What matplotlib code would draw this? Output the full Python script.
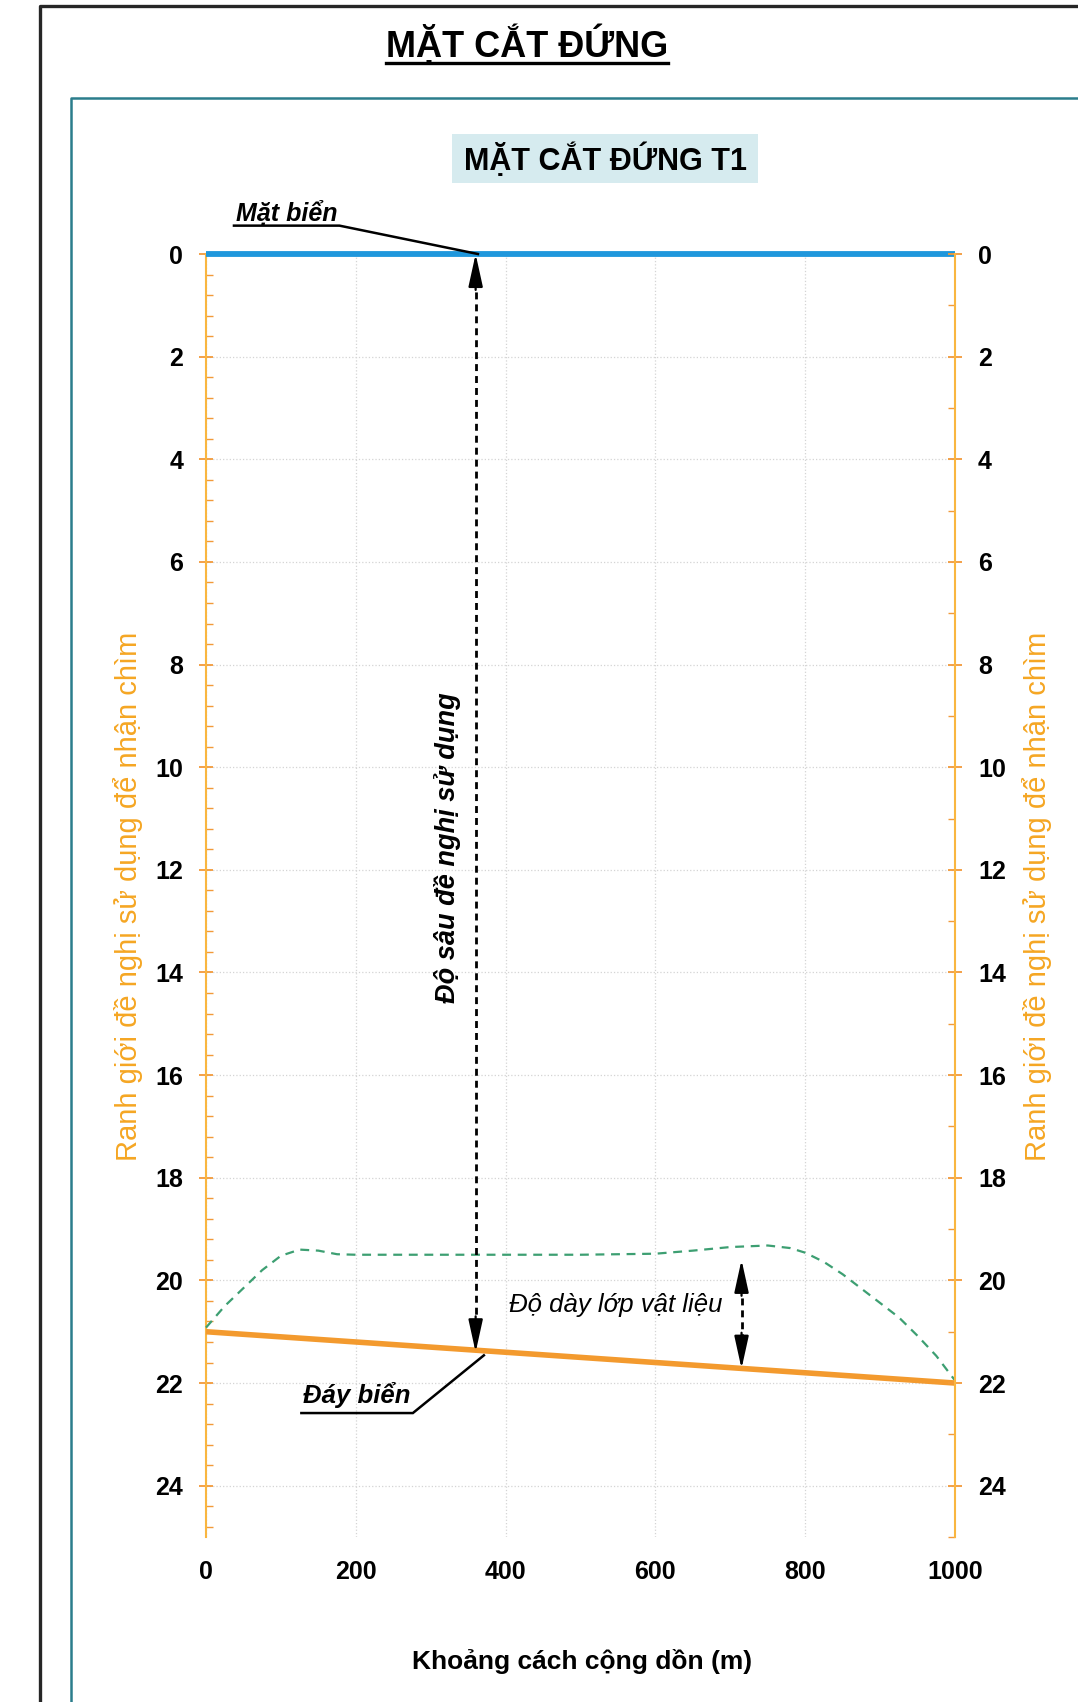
import matplotlib
matplotlib.use("Agg")
import matplotlib.pyplot as plt
from matplotlib.ticker import MultipleLocator
from matplotlib.patches import Rectangle
from matplotlib.lines import Line2D

plt.rcParams['font.family'] = ['Liberation Sans', 'DejaVu Sans']

# ---------------------------------------------------------------
# DATA
# ---------------------------------------------------------------
x_ticks = [0, 200, 400, 600, 800, 1000]

# sea surface (Mặt biển)
surface_x = [0, 1000]
surface_y = [0, 0]

# sea floor (Đáy biển)
seabed_x = [0, 1000]
seabed_y = [21.0, 22.0]

# proposed boundary for dumping (green dashed)
boundary_x = [0, 25, 50, 75, 100, 125, 150, 175, 200, 250, 300, 400, 500,
              600, 650, 700, 750, 780, 800, 825, 850, 875, 900, 925, 950,
              975, 1000]
boundary_y = [20.92, 20.5, 20.15, 19.8, 19.52, 19.4, 19.42, 19.49, 19.5,
              19.5, 19.5, 19.5, 19.5, 19.48, 19.42, 19.35, 19.32, 19.37,
              19.46, 19.64, 19.88, 20.16, 20.44, 20.72, 21.08, 21.47, 21.95]

# dimension arrows: (x, top depth, bottom depth)
depth_arrow = (360, 0.0, 21.4)
thick_arrow = (715, 19.6, 21.72)

title_main = "MẶT CẮT ĐỨNG"
title_sub = "MẶT CẮT ĐỨNG T1"
x_label = "Khoảng cách cộng dồn (m)"
y_label = "Ranh giới đề nghị sử dụng để nhận chìm"

ORANGE = '#F5A623'
TICK_COL = '#F29A3A'

# ---------------------------------------------------------------
# FIGURE / FRAME
# ---------------------------------------------------------------
W, H = 1078, 1702
fig = plt.figure(figsize=(W / 100, H / 100), dpi=100)


def fx(px):
    return px / W


def fy(py):
    return 1 - py / H


# outer black frame and inner teal frame (run off right / bottom edges)
fig.add_artist(Line2D([fx(40), fx(40), 1.0], [0.0, fy(6), fy(6)],
                      color='#262626', lw=2.4, transform=fig.transFigure))
fig.add_artist(Line2D([fx(71), fx(71), 1.0], [0.0, fy(98), fy(98)],
                      color='#2b7d8c', lw=1.8, transform=fig.transFigure))

# main title with underline
t_main = fig.text(fx(527), fy(57), title_main, ha='center', va='baseline',
                  fontsize=26, fontweight='bold')

# subtitle on light blue band
fig.add_artist(Rectangle((fx(452), fy(183)), fx(758) - fx(452), fy(134) - fy(183),
                         transform=fig.transFigure, facecolor='#d6ebef',
                         edgecolor='none'))
fig.text(fx(605), fy(170), title_sub, ha='center', va='baseline',
         fontsize=22, fontweight='bold')

# ---------------------------------------------------------------
# AXES
# ---------------------------------------------------------------
ax = fig.add_axes([fx(206), fy(1537), fx(955) - fx(206), fy(254) - fy(1537)])
ax.set_xlim(0, 1000)
ax.set_ylim(25, 0)

axr = ax.twinx()
axr.set_ylim(25, 0)

for a in (ax, axr):
    a.spines['top'].set_visible(False)
    a.spines['bottom'].set_visible(False)
ax.spines['right'].set_visible(False)
axr.spines['left'].set_visible(False)
ax.spines['left'].set_color('#F9B640')
axr.spines['right'].set_color('#F9B640')
ax.spines['left'].set_linewidth(1.5)
axr.spines['right'].set_linewidth(1.5)

ax.set_xticks(x_ticks)
ax.tick_params(axis='x', length=0, pad=16.5, labelsize=18)

ax.yaxis.set_major_locator(MultipleLocator(2))
ax.yaxis.set_minor_locator(MultipleLocator(0.4))
axr.yaxis.set_major_locator(MultipleLocator(2))
axr.yaxis.set_minor_locator(MultipleLocator(1))
for a in (ax, axr):
    a.tick_params(axis='y', which='major', direction='inout', length=10,
                  width=1.3, color=TICK_COL, pad=11.5, labelsize=18)
    a.tick_params(axis='y', which='minor', direction='in', length=5,
                  width=1.0, color=TICK_COL)

for lbl in ax.get_xticklabels() + ax.get_yticklabels() + axr.get_yticklabels():
    lbl.set_fontweight('bold')

ax.grid(True, which='major', color='#d4d4d4', linestyle=':', linewidth=0.9)
ax.set_axisbelow(True)

# ---------------------------------------------------------------
# LINES
# ---------------------------------------------------------------
ax.plot(surface_x, surface_y, color='#1f97dc', lw=4.2, solid_capstyle='butt',
        clip_on=False, zorder=5)
ax.plot(seabed_x, seabed_y, color='#F39A2E', lw=4.0, solid_capstyle='butt',
        clip_on=False, zorder=4)
ax.plot(boundary_x, boundary_y, color='#3d9f72', lw=1.6, dashes=(4, 3),
        clip_on=False, zorder=3)


def dim_arrow(x, y0, y1):
    """Dashed dimension line with an arrow head at each end."""
    ax.plot([x, x], [y0 + 0.5, y1 - 0.5], color='black', lw=2.0,
            dashes=(2.5, 1.8), zorder=6)
    for tip, tail in ((y0, y0 + 0.7), (y1, y1 - 0.7)):
        ax.annotate('', xy=(x, tip), xytext=(x, tail),
                    arrowprops=dict(arrowstyle='-|>,head_length=1.0,head_width=0.22',
                                    color='black', lw=1.6, mutation_scale=20,
                                    shrinkA=0, shrinkB=0),
                    zorder=6)


dim_arrow(*depth_arrow)
dim_arrow(*thick_arrow)

# ---------------------------------------------------------------
# TEXT LABELS
# ---------------------------------------------------------------
fig.text(fx(128), fy(896), y_label, rotation=90, ha='center', va='center',
         color=ORANGE, fontsize=21)
fig.text(fx(1037), fy(896), y_label, rotation=90, ha='center', va='center',
         color=ORANGE, fontsize=21)
fig.text(fx(582), fy(1662), x_label, ha='center', va='center',
         fontsize=19, fontweight='bold')

ax.text(322, 11.57, "Độ sâu đề nghị sử dụng", rotation=90, ha='center',
        va='center', fontsize=19.5, fontweight='bold', style='italic', zorder=7)
ax.text(690, 20.47, "Độ dày lớp vật liệu", ha='right', va='center',
        fontsize=18.5, style='italic', zorder=7)

t_surface = ax.text(40, -0.65, "Mặt biển", ha='left', va='baseline',
                    fontsize=18, fontweight='bold', style='italic',
                    clip_on=False, zorder=7)
t_seabed = ax.text(130, 22.39, "Đáy biển", ha='left', va='baseline',
                   fontsize=18.5, fontweight='bold', style='italic',
                   clip_on=False, zorder=7)

fig.canvas.draw()
renderer = fig.canvas.get_renderer()
inv = ax.transData.inverted()


def underline_and_leader(txt, drop_px, target, lw=1.8):
    bb = txt.get_window_extent(renderer)
    base = ax.transData.transform(txt.get_position())[1]
    yline = base - drop_px
    (x0, y0d), (x1, _) = inv.transform([(bb.x0 - 2, yline), (bb.x1 + 2, yline)])
    ax.plot([x0, x1, target[0]], [y0d, y0d, target[1]], color='black', lw=lw,
            solid_joinstyle='miter', clip_on=False, zorder=7)


underline_and_leader(t_surface, 5, (depth_arrow[0] + 3, depth_arrow[1]))
underline_and_leader(t_seabed, 10, (depth_arrow[0] + 11, 21.46))

# title underline
bb = t_main.get_window_extent(renderer)
base = fig.transFigure.transform(t_main.get_position())[1]
fig.add_artist(Line2D([bb.x0 / W, bb.x1 / W], [(base - 6) / H, (base - 6) / H],
                      color='black', lw=2.4, transform=fig.transFigure))

fig.savefig("out.png", dpi=100)
